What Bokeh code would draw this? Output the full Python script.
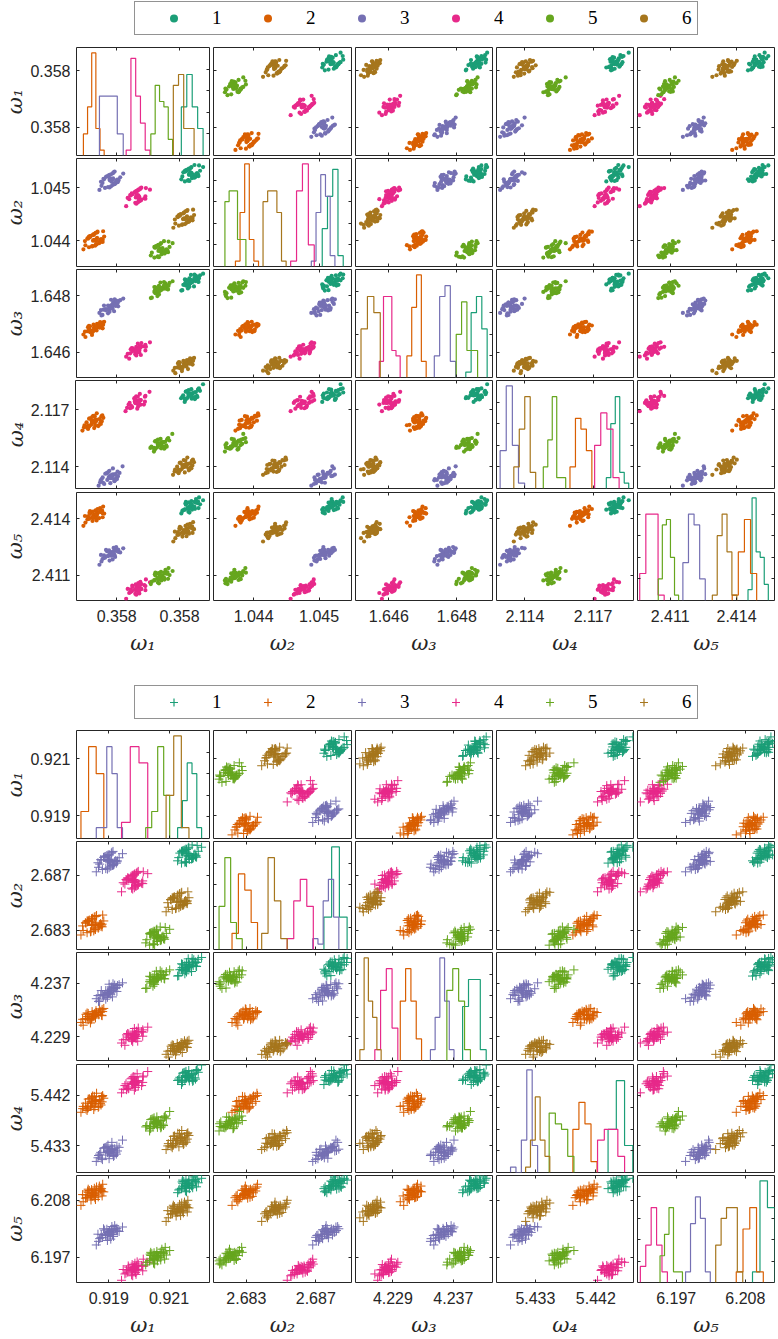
import numpy as np
from bokeh.plotting import figure
from bokeh.models import (Range1d, LinearAxis, FixedTicker, PrintfTickFormatter,
                          Legend, LegendItem)
from bokeh.layouts import column, row
from bokeh.embed import file_html
from bokeh.resources import INLINE

# ---------------------------------------------------------------- data
CLASSES = ["1", "2", "3", "4", "5", "6"]
COLORS = ["#1b9e77", "#d95f02", "#7570b3", "#e7298a", "#66a61e", "#a6761d"]
DIM_LABELS = ["ω₁", "ω₂", "ω₃", "ω₄", "ω₅"]

# class centres per dimension  (rows: ω1..ω5, columns: class 1..6)
TOP_CENTERS = [
    [0.358136, 0.357831, 0.357882, 0.357967, 0.358039, 0.358117],
    [1.045201, 1.043914, 1.045074, 1.044758, 1.043713, 1.044336],
    [1.648583, 1.646853, 1.647658, 1.646028, 1.648302, 1.645505],
    [2.117994, 2.116488, 2.113416, 2.117572, 2.115223, 2.114018],
    [2.414941, 2.414415, 2.412188, 2.410239, 2.410889, 2.413518],
]
TOP_SPREAD = [0.0000161, 0.0000802, 0.000153, 0.000229, 0.000235]

BOT_CENTERS = [
    [0.921503, 0.918606, 0.919076, 0.919851, 0.920524, 0.921218],
    [2.688308, 2.683210, 2.687834, 2.686372, 2.682301, 2.684909],
    [4.239703, 4.231909, 4.235678, 4.228654, 4.237733, 4.226856],
    [5.445350, 5.440608, 5.431617, 5.444165, 5.436854, 5.433791],
    [6.210876, 6.209078, 6.201251, 6.194270, 6.196597, 6.205905],
]
BOT_SPREAD = [0.000171, 0.000332, 0.000719, 0.000830, 0.000888]

# sample deviations (in spread units) for the five frequencies
DEV = [
    [1.2, 0.1, 0.8, -0.3, 1.0], [-0.5, -1.6, -0.9, 0.2, -1.4], [-0.6, 1.0, 0.3, 0.9, -0.4],
    [1.8, 0.7, 1.6, 0.9, 0.4], [-1.1, 0.5, -0.2, -1.3, 0.6], [0.7, -0.8, 1.0, -0.6, -0.2],
    [-1.2, -1.9, -0.6, -1.8, -0.9], [0.1, 1.6, 0.4, 1.3, 1.2], [0.6, -1.0, -1.1, 0.5, -0.3],
    [1.4, -0.2, 0.1, 1.2, 1.1], [1.6, 2.0, 0.9, 1.5, 2.1], [-1.5, 0.3, -0.7, -0.2, -1.0],
    [0.9, -0.7, 0.2, -0.9, 0.8], [-1.0, 0.6, 0.5, -1.2, 0.3], [0.4, 1.7, 1.1, 0.2, 0.6],
    [-0.6, -1.7, -1.6, -0.8, -0.5], [-0.3, 1.1, 0.9, -0.2, -0.6], [0.3, -1.2, -0.5, 0.4, -1.3],
    [-0.8, 0.9, -0.6, 0.8, 0.7], [0.2, -1.1, 0.4, -1.0, -0.9], [1.5, 0.0, 1.4, 0.1, 0.5],
    [-1.9, -1.4, -2.1, -0.9, -1.8], [-0.4, 1.2, -0.7, 1.1, 0.9], [-1.4, 0.2, 0.3, -1.5, -0.3],
    [1.0, -0.1, 1.5, 0.6, 1.7], [-0.3, -1.8, -1.2, -0.2, -1.6], [-0.2, 1.3, -0.3, 1.4, 0.2],
    [0.8, -0.9, 0.6, -1.1, -0.7], [0.7, 2.1, 1.8, 0.5, 1.0], [-2.0, -0.4, -0.8, -1.4, -0.2],
    [-1.0, 0.8, -0.9, 0.7, 1.0], [2.4, 1.6, 2.0, 2.5, 1.4], [0.0, -1.5, -0.2, -1.6, -0.4],
    [1.3, -0.5, 1.0, -0.6, 0.7], [-1.7, -0.7, -2.0, -0.6, -1.2], [0.5, 1.9, 0.7, 2.0, 1.5],
    [-1.2, 0.7, 0.6, -0.9, -0.8], [0.0, 1.4, 1.7, 0.1, 0.3], [-2.3, -2.4, -1.5, -2.2, -2.6],
    [1.5, -0.6, 0.0, 1.3, -0.5],
    [0.1, 0.2, -0.1, 0.0, 0.3], [-0.2, -0.1, 0.2, -0.3, 0.0], [0.3, -0.2, 0.0, 0.2, -0.1],
    [-0.1, 0.3, -0.3, 0.1, 0.2], [0.2, 0.0, 0.3, -0.2, -0.3], [0.0, -0.3, 0.1, 0.3, 0.1],
    [-0.3, 0.1, -0.2, -0.1, -0.2], [0.4, 0.4, 0.3, 0.5, 0.2], [-0.4, -0.3, -0.5, -0.2, -0.4],
    [0.1, -0.4, 0.4, -0.4, 0.4],
]
N_PER_CLASS = 38

# histogram counts on the diagonal (per dimension, per class)
TOP_HIST = [
    [[9, 15, 9, 5], [4, 9, 19, 5, 1], [11, 11, 11, 4], [1, 18, 11, 6, 1], [4, 13, 10, 9, 3], [13, 15, 5, 5]],
    [[7, 13, 18, 2], [1, 10, 19, 5, 1], [1, 10, 17, 13, 2], [1, 14, 19, 4], [12, 14, 14, 5, 5], [12, 14, 14, 10, 1]],
    [[1, 12, 15, 9], [4, 13, 19, 3], [4, 15, 17, 3], [3, 15, 15, 5, 4], [8, 14, 5, 5], [9, 15, 12]],
    [[2, 12, 17, 3, 1], [4, 13, 11, 7], [7, 19, 8, 1], [8, 14, 11, 2], [4, 9, 17, 2, 2], [4, 11, 17, 3]],
    [[2, 19, 9, 8, 3], [1, 9, 15, 5], [7, 16, 14, 4], [5, 16, 16, 1], [4, 14, 15, 8, 1], [1, 12, 16, 9, 1]],
]
BOT_HIST = [
    [[2, 7, 14, 12, 2], [5, 17, 12], [2, 2, 17, 12, 2], [3, 17, 14], [2, 5, 17, 8], [8, 19, 2]],
    [[6, 19, 6], [3, 14, 11, 5], [2, 1, 9, 13, 6], [2, 9, 13, 8], [8, 17, 5, 2], [3, 17, 9, 2]],
    [[10, 15, 15, 2], [11, 17, 11, 4], [2, 8, 19, 11, 2], [2, 13, 17, 6], [13, 17, 11, 2], [2, 19, 11, 8, 2]],
    [[8, 17, 5], [8, 13, 9, 2], [1, 0, 6, 19, 5], [6, 8, 8, 3], [11, 9, 8, 3], [1, 6, 14, 6, 3]],
    [[2, 19, 14], [2, 10, 14, 2], [2, 11, 16, 12, 2], [3, 7, 14, 7, 2], [5, 9, 14, 2, 2], [7, 12, 14, 14, 2]],
]
HIST_MAX = 20
HIST_TICKS = [4, 8, 12, 16]

# axis ranges and ticks
TOP_RANGE = [(0.357772, 0.358195), (1.043386, 1.045496), (1.645022, 1.649046),
             (2.112753, 2.118777), (2.409528, 2.415714)]
TOP_XTICKS = [[0.3579, 0.3581], [1.044, 1.045], [1.646, 1.648], [2.114, 2.117], [2.411, 2.414]]
TOP_YTICKS = [[0.357882, 0.358104], [1.043888, 1.044926], [1.645964, 1.648076],
              [2.113958, 2.117151], [2.410969, 2.414198]]
BOT_RANGE = [(0.918076, 0.922156), (2.681352, 2.689257), (4.2248, 4.24193),
             (5.427764, 5.447524), (6.19152, 6.212674)]
BOT_XTICKS = [[0.919067, 0.920916], [2.683234, 2.687210], [4.229476, 4.237031],
              [5.433376, 5.442090], [6.19749, 6.208168]]
BOT_YTICKS = [[0.918933, 0.921083], [2.682767, 2.686791], [4.228586, 4.237031],
              [5.432625, 5.441912], [6.19651, 6.207745]]

# ---------------------------------------------------------------- style / layout
FRAME = "#262626"
TXT = "#262626"
TICK_FONT = "Liberation Sans"
TICK_SIZE = "16px"
SERIF = "DejaVu Serif"

FIG_W = [211, 142, 141, 141, 142]
BORDER_L = [72, 2, 2, 2, 2]
BORDER_R = [2, 2, 2, 2, 3]
FIG_H_TOP = [112, 111, 111, 111, 170]
BORDER_T_TOP = [2, 1, 1, 1, 2]
BORDER_B_TOP = [2, 2, 2, 2, 60]
FIG_H_BOT = [112, 111, 111, 111, 166]
BORDER_T_BOT = [2, 1, 1, 2, 2]
BORDER_B_BOT = [2, 2, 2, 1, 56]


def class_samples(centers, spread, k):
    idx = [(11 * k + 3 * i) % len(DEV) for i in range(N_PER_CLASS)]
    return [[centers[d][k] + spread[d] * DEV[i][d] for i in idx] for d in range(5)]


def stairs(edges, counts):
    xs, ys = [edges[0]], [0]
    for i, cnt in enumerate(counts):
        xs += [edges[i], edges[i + 1]]
        ys += [cnt, cnt]
    xs.append(edges[-1])
    ys.append(0)
    return xs, ys


def add_axis(p, side, ticks, labeled=False, range_name=None, label=None):
    ax = LinearAxis(ticker=FixedTicker(ticks=list(ticks)))
    if range_name is not None:
        if side in ("left", "right"):
            ax.y_range_name = range_name
        else:
            ax.x_range_name = range_name
    ax.axis_line_color = None
    ax.major_tick_in = 3
    ax.major_tick_out = 0
    ax.major_tick_line_color = FRAME
    ax.major_tick_line_width = 1
    ax.minor_tick_line_color = None
    if labeled:
        ax.formatter = PrintfTickFormatter(format="%.3f")
        ax.major_label_text_font = TICK_FONT
        ax.major_label_text_font_size = TICK_SIZE
        ax.major_label_text_color = TXT
        ax.major_label_standoff = 6 if side == "left" else 9
        if label is not None:
            ax.axis_label = label
            ax.axis_label_text_font = SERIF
            ax.axis_label_text_font_style = "italic"
            ax.axis_label_text_font_size = "21px"
            ax.axis_label_text_color = TXT
            ax.axis_label_standoff = 0 if side == "left" else 6
    else:
        ax.major_label_text_color = None
        ax.major_label_text_alpha = 0
        ax.major_label_text_font_size = "1px"
        ax.major_label_standoff = 0
    p.add_layout(ax, side)


def build_grid(centers, spread, hist, rng, xticks, yticks, marker, fig_h, border_t, border_b):
    samples = [class_samples(centers, spread, k) for k in range(6)]
    rows = []
    for r in range(5):
        figs = []
        for c in range(5):
            diag = (r == c)
            y_rng = Range1d(0, HIST_MAX) if diag else Range1d(*rng[r])
            p = figure(width=FIG_W[c], height=fig_h[r],
                       x_range=Range1d(*rng[c]), y_range=y_rng,
                       toolbar_location=None, output_backend="svg",
                       x_axis_location=None, y_axis_location=None,
                       min_border_left=BORDER_L[c], min_border_right=BORDER_R[c],
                       min_border_top=border_t[r], min_border_bottom=border_b[r])
            p.outline_line_color = FRAME
            p.outline_line_width = 1
            p.background_fill_color = "white"
            p.border_fill_color = "white"
            p.xgrid.grid_line_color = None
            p.ygrid.grid_line_color = None

            if diag:
                for k in range(6):
                    vals = samples[k][c]
                    counts = hist[c][k]
                    edges = np.linspace(min(vals), max(vals), len(counts) + 1)
                    xs, ys = stairs(edges, counts)
                    p.line(xs, ys, line_color=COLORS[k], line_width=1.2)
            else:
                for k in range(6):
                    if marker == "circle":
                        p.scatter(samples[k][c], samples[k][r], marker="circle", size=4.2,
                                  fill_color=COLORS[k], line_color=None)
                    else:
                        p.scatter(samples[k][c], samples[k][r], marker="cross", size=9,
                                  line_color=COLORS[k], line_width=1)

            if diag:
                p.extra_y_ranges = {"w": Range1d(*rng[r])}
            if c == 0:
                add_axis(p, "left", yticks[r], labeled=True,
                         range_name="w" if diag else None, label=DIM_LABELS[r])
            else:
                add_axis(p, "left", HIST_TICKS if diag else yticks[r])
            add_axis(p, "right", HIST_TICKS if diag else yticks[r])
            add_axis(p, "above", xticks[c])
            if r == 4:
                add_axis(p, "below", xticks[c], labeled=True, label=DIM_LABELS[c])
            else:
                add_axis(p, "below", xticks[c])
            figs.append(p)
        rows.append(row(*figs, spacing=0))
    return rows


def build_legend(marker, size, height, loc_y):
    p = figure(width=777, height=height, x_range=Range1d(0, 1), y_range=Range1d(0, 1),
               toolbar_location=None, output_backend="svg",
               x_axis_location=None, y_axis_location=None, min_border=0)
    p.outline_line_color = None
    p.xgrid.grid_line_color = None
    p.ygrid.grid_line_color = None
    items = []
    for k in range(6):
        # a single non-finite point: nothing is drawn in the frame, only the legend glyph
        if marker == "circle":
            rr = p.scatter(x=np.array([np.nan]), y=np.array([np.nan]), marker="circle", size=size,
                           fill_color=COLORS[k], line_color=None)
        else:
            rr = p.scatter(x=np.array([np.nan]), y=np.array([np.nan]), marker="cross", size=size,
                           line_color=COLORS[k], line_width=1.2)
        items.append(LegendItem(label=CLASSES[k], renderers=[rr]))
    leg = Legend(items=items, orientation="horizontal", location=(134, loc_y),
                 glyph_width=67, glyph_height=20, label_standoff=5, label_width=10,
                 label_height=20, spacing=12, padding=5, margin=0,
                 border_line_color=FRAME, border_line_width=1,
                 label_text_font="Liberation Serif", label_text_font_size="19px",
                 label_text_color="black", background_fill_color="white",
                 background_fill_alpha=1.0)
    p.add_layout(leg)
    return p


top_legend = build_legend("circle", 4, 45, 10)
top_rows = build_grid(TOP_CENTERS, TOP_SPREAD, TOP_HIST, TOP_RANGE, TOP_XTICKS, TOP_YTICKS,
                      "circle", FIG_H_TOP, BORDER_T_TOP, BORDER_B_TOP)
bot_legend = build_legend("cross", 10, 68, 9)
bot_rows = build_grid(BOT_CENTERS, BOT_SPREAD, BOT_HIST, BOT_RANGE, BOT_XTICKS, BOT_YTICKS,
                      "cross", FIG_H_BOT, BORDER_T_BOT, BORDER_B_BOT)

layout = column(top_legend, *top_rows, bot_legend, *bot_rows, spacing=0)
open("out.html", "w").write(file_html(layout, INLINE, title="scatter matrix"))
